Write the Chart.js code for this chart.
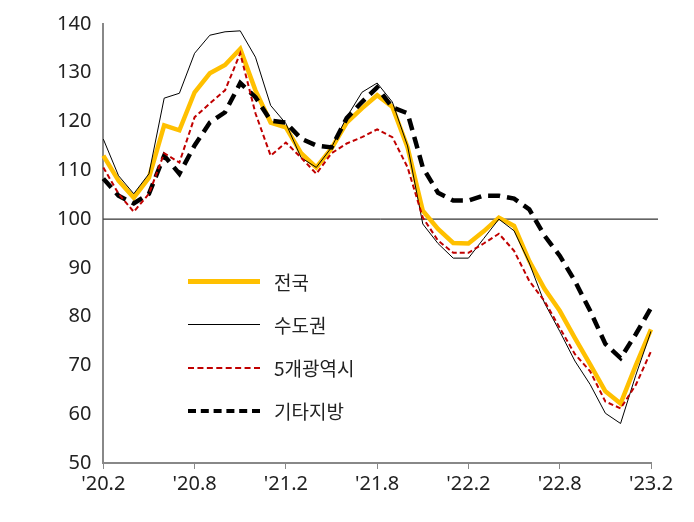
<!DOCTYPE html>
<html>
<head>
<meta charset="utf-8">
<script src="https://cdn.jsdelivr.net/npm/chart.js@4"></script>
<style>
body { margin: 0; background: #fff; }
#wrap { position: relative; width: 694px; height: 522px; }
#legend { position: absolute; left: 188px; top: 260px; font-family: "Noto Sans CJK KR", sans-serif; font-size: 19px; color: #222; }
.row { height: 43px; display: flex; align-items: center; }
.sw { width: 72px; margin-right: 14px; }
</style>
</head>
<body>
<div id="wrap">
<canvas id="lineChart" width="694" height="522"></canvas>
<div id="legend">
	<div class="row"><div class="sw" style="border-top:5px solid #FFC000"></div>전국</div>
	<div class="row"><div class="sw" style="border-top:1px solid #000"></div>수도권</div>
	<div class="row"><div class="sw" style="border-top:2px dashed #C00000"></div>5개광역시</div>
	<div class="row"><div class="sw" style="border-top:4px dashed #000"></div>기타지방</div>
</div>
</div>
<script>
var months = [];
for (var y = 20; y <= 23; y++) {
	for (var m = 1; m <= 12; m++) {
		if ((y == 20 && m < 2) || (y == 23 && m > 2)) continue;
		months.push("'" + y + "." + m);
	}
}
var yTicks = [50, 60, 70, 80, 90, 100, 110, 120, 130, 140];

var national = [113, 107.9, 104.4, 108.5, 119.2, 118.2, 126, 129.9, 131.6, 134.9, 126.4, 119.8, 118.8, 113.5, 110.6, 114.5, 119.8, 122.7, 125.4,
	123, 114.7, 101.7, 98, 95.1, 95, 97.5, 100.3, 98.6, 91.4, 85.7, 81.2, 75.6, 70.2, 64.7, 62.2, 70, 77.4];
var capital = [116.4, 108.9, 105.2, 109.3, 124.8, 125.8, 134, 137.7, 138.4, 138.6, 133.2, 123.3, 119.6, 112.6, 110.6, 114.7, 120.9, 126, 127.9,
	124, 115, 99, 95, 92, 92, 96, 100, 97.6, 91, 82.8, 77, 70.9, 66.1, 60.2, 58.1, 68, 77];
var metro = [110.6, 105.2, 101.5, 105.2, 113.5, 111.6, 120.9, 123.7, 126.4, 134, 121.7, 113, 115.7, 112.6, 109.3, 113.5, 115.5, 116.8, 118.4,
	116.8, 110.6, 100.3, 95.6, 93.1, 93.1, 95, 97, 93.5, 87.3, 83.2, 77.7, 72.3, 68.8, 62.6, 61.2, 66, 72.9];
var province = [108.3, 104.8, 103.2, 105.2, 113, 109.3, 115.1, 119.8, 121.9, 127.9, 125, 120.2, 119.8, 116.5, 115.1, 114.7, 120.7, 124, 127,
	122.9, 121.7, 110.6, 105.4, 103.8, 103.8, 104.8, 104.8, 104.2, 102, 96.6, 92.5, 87.3, 81.2, 74.4, 71.5, 76.4, 81.8];

// horizontal line at 100
var baseLine = {
	id: 'baseLine',
	beforeDatasetsDraw: function (chart) {
		var c = chart.ctx, a = chart.chartArea;
		var yy = chart.scales.y.getPixelForValue(100);
		c.save();
		c.strokeStyle = '#000';
		c.lineWidth = 1;
		c.beginPath();
		c.moveTo(a.left, yy);
		c.lineTo(a.right + 7, yy);
		c.stroke();
		c.restore();
	}
};

new Chart(document.getElementById('lineChart'), {
	type: 'line',
	data: {
		labels: months,
		datasets: [{
			data: metro, borderColor: '#C00000', borderWidth: 2, borderDash: [5, 3], pointRadius: 0, tension: 0
		}, {
			data: capital, borderColor: '#000', borderWidth: 1, pointRadius: 0, tension: 0
		}, {
			data: province, borderColor: '#000', borderWidth: 4.5, borderDash: [12, 7], pointRadius: 0, tension: 0
		}, {
			data: national, borderColor: '#FFC000', borderWidth: 4.5, pointRadius: 0, tension: 0
		}]
	},
	options: {
		responsive: false,
		animation: false,
		layout: { padding: { top: 20, right: 43, left: 45, bottom: 23 } },
		scales: {
			y: {
				min: 50,
				max: 140,
				afterBuildTicks: function (axis) {
					axis.ticks = yTicks.map(function (v) { return { value: v }; });
				},
				border: { color: '#888', width: 2 },
				grid: { drawOnChartArea: false, tickLength: 0 },
				ticks: { color: '#222', font: { family: 'Noto Sans', size: 20 }, padding: 12 }
			},
			x: {
				offset: false,
				border: { color: '#888', width: 2 },
				grid: {
					drawOnChartArea: false,
					tickLength: 6,
					color: function (ctx) { return ctx.index % 6 == 0 ? '#888' : 'rgba(0,0,0,0)'; }
				},
				ticks: {
					autoSkip: false,
					maxRotation: 0,
					color: '#222',
					font: { family: 'Noto Sans', size: 20 },
					callback: function (v, i) { return i % 6 == 0 ? months[i] : ''; }
				}
			}
		},
		plugins: {
			legend: { display: false },
			tooltip: { enabled: false }
		}
	},
	plugins: [baseLine]
});
</script>
</body>
</html>
